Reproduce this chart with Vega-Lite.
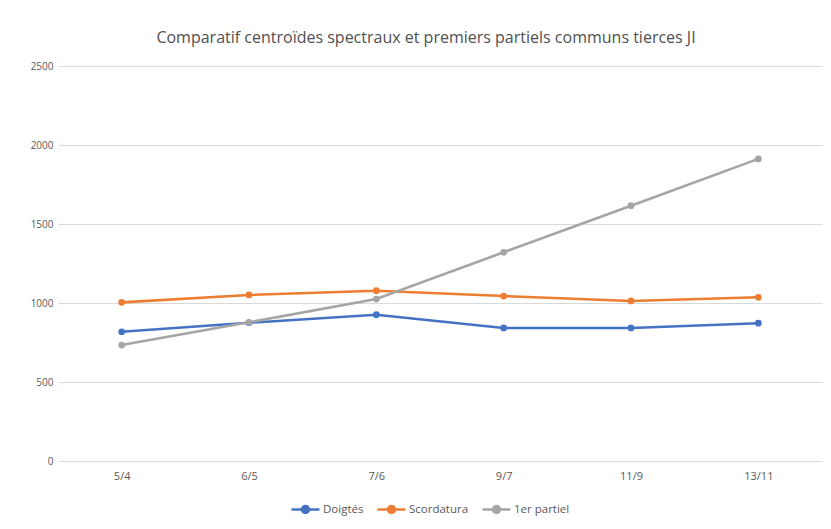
{
  "$schema": "https://vega.github.io/schema/vega-lite/v6.json",
  "autosize": "none",
  "width": 764,
  "height": 395,
  "padding": {"left": 58, "top": 66, "right": 9, "bottom": 68},
  "background": "white",
  "title": {
    "text": "Comparatif centroïdes spectraux et premiers partiels communs tierces JI",
    "font": "Open Sans",
    "fontSize": 16,
    "fontWeight": "normal",
    "color": "#505050",
    "anchor": "middle",
    "dx": -14,
    "offset": 15
  },
  "data": {
    "values": [
      {"ratio": "5/4", "serie": "Doigtés", "valeur": 818},
      {"ratio": "6/5", "serie": "Doigtés", "valeur": 875},
      {"ratio": "7/6", "serie": "Doigtés", "valeur": 926},
      {"ratio": "9/7", "serie": "Doigtés", "valeur": 842},
      {"ratio": "11/9", "serie": "Doigtés", "valeur": 842},
      {"ratio": "13/11", "serie": "Doigtés", "valeur": 872},
      {"ratio": "5/4", "serie": "Scordatura", "valeur": 1004},
      {"ratio": "6/5", "serie": "Scordatura", "valeur": 1051},
      {"ratio": "7/6", "serie": "Scordatura", "valeur": 1078},
      {"ratio": "9/7", "serie": "Scordatura", "valeur": 1044},
      {"ratio": "11/9", "serie": "Scordatura", "valeur": 1013},
      {"ratio": "13/11", "serie": "Scordatura", "valeur": 1036},
      {"ratio": "5/4", "serie": "1er partiel", "valeur": 734},
      {"ratio": "6/5", "serie": "1er partiel", "valeur": 878},
      {"ratio": "7/6", "serie": "1er partiel", "valeur": 1025},
      {"ratio": "9/7", "serie": "1er partiel", "valeur": 1321},
      {"ratio": "11/9", "serie": "1er partiel", "valeur": 1616},
      {"ratio": "13/11", "serie": "1er partiel", "valeur": 1912}
    ]
  },
  "encoding": {
    "x": {
      "field": "ratio",
      "type": "ordinal",
      "sort": null,
      "scale": {"type": "point", "padding": 0.5},
      "axis": {
        "title": null,
        "labelAngle": 0,
        "domain": false,
        "ticks": false,
        "grid": false,
        "labelFont": "Open Sans",
        "labelFontSize": 11,
        "labelColor": "#595959",
        "labelPadding": 9
      }
    },
    "y": {
      "field": "valeur",
      "type": "quantitative",
      "scale": {"domain": [0, 2500], "nice": false},
      "axis": {
        "title": null,
        "values": [0, 500, 1000, 1500, 2000, 2500],
        "format": "d",
        "domain": false,
        "ticks": false,
        "gridColor": "#d9d9d9",
        "gridWidth": 1,
        "labelFont": "Open Sans",
        "labelFontSize": 10,
        "labelColor": "#595959",
        "labelPadding": 5
      }
    },
    "color": {
      "field": "serie",
      "type": "nominal",
      "sort": ["Doigtés", "Scordatura", "1er partiel"],
      "scale": {
        "domain": ["Doigtés", "Scordatura", "1er partiel"],
        "range": ["#4472C4", "#ED7D31", "#A5A5A5"]
      },
      "legend": {
        "title": null,
        "orient": "none",
        "legendX": 232,
        "legendY": 428,
        "direction": "horizontal",
        "labelFont": "Open Sans",
        "labelFontSize": 11.5,
        "labelColor": "#595959",
        "symbolType": "M-1,0H1M-0.25,0A0.25,0.25,0,1,1,0.25,0A0.25,0.25,0,1,1,-0.25,0Z",
        "symbolSize": 784,
        "symbolStrokeWidth": 2.5,
        "labelOffset": 2,
        "columnPadding": 8,
        "encode": {
          "symbols": {
            "update": {
              "fill": {"scale": "color", "field": "value"},
              "stroke": {"scale": "color", "field": "value"}
            }
          }
        }
      }
    }
  },
  "layer": [
    {
      "mark": {"type": "line", "strokeWidth": 2.6},
      "encoding": {}
    },
    {
      "mark": {"type": "circle", "size": 45, "opacity": 1},
      "encoding": {}
    }
  ],
  "config": {
    "view": {"stroke": null}
  }
}
